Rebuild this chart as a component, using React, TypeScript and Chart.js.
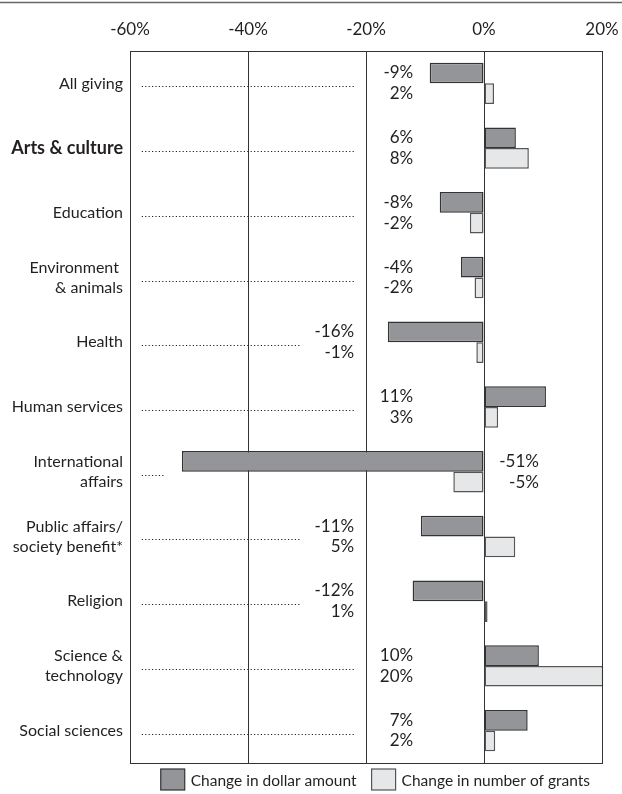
import React, { useEffect, useRef } from 'react';
import { Chart, registerables } from 'chart.js';

Chart.register(...registerables);

const categories: (string | string[])[] = [
  'All giving',
  'Arts & culture',
  'Education',
  ['Environment ', '& animals'],
  'Health',
  'Human services',
  ['International', 'affairs'],
  ['Public affairs/', 'society benefit*'],
  'Religion',
  ['Science &', 'technology'],
  'Social sciences',
];

const dollarChange = [-9.2, 5.4, -7.5, -3.9, -16.3, 10.5, -51.2, -10.7, -12.1, 9.3, 7.4];
const grantChange = [1.7, 7.6, -2.4, -1.6, -1.3, 2.4, -5.2, 5.3, 0.6, 20.2, 1.9];

const dollarLabels = ['-9%', '6%', '-8%', '-4%', '-16%', '11%', '-51%', '-11%', '-12%', '10%', '7%'];
const grantLabels = ['2%', '8%', '-2%', '-2%', '-1%', '3%', '-5%', '5%', '1%', '20%', '2%'];

const xTicks = [-60, -40, -20, 0, 20];

const seriesNames = ['Change in dollar amount', 'Change in number of grants'];

const FONT = 'Lato';
const TEXT = '#231f20';
const DARK_FILL = '#939598';
const LIGHT_FILL = '#e6e7e8';
const DARK_EDGE = '#333333';
const LIGHT_EDGE = '#555555';

export default function App() {
  const ref = useRef<HTMLCanvasElement>(null);

  useEffect(() => {
    const canvas = ref.current;
    if (!canvas) return;

    const overlay = {
      id: 'overlay',
      afterDatasetsDraw(chart: any) {
        const c = chart.ctx;
        const xs = chart.scales.x;
        const ys = chart.scales.y;
        const m0 = chart.getDatasetMeta(0);
        const m1 = chart.getDatasetMeta(1);
        c.save();
        for (let i = 0; i < categories.length; i++) {
          const d = dollarChange[i];
          const g = grantChange[i];
          const minV = Math.min(d, g);
          let labelX: number;
          let leaderEnd: number;
          if (minV < -40) {
            labelX = xs.getPixelForValue(9.3);
            leaderEnd = xs.getPixelForValue(minV - 3);
          } else if (minV < -10) {
            labelX = xs.getPixelForValue(-22);
            leaderEnd = xs.getPixelForValue(-31.2);
          } else {
            labelX = xs.getPixelForValue(-12);
            leaderEnd = xs.getPixelForValue(-22);
          }
          const yc = ys.getPixelForValue(i);
          const b0 = m0.data[i];
          const b1 = m1.data[i];
          // leader dots
          c.strokeStyle = '#222';
          c.lineWidth = 1.2;
          c.setLineDash([1.2, 2.2]);
          c.beginPath();
          c.moveTo(xs.getPixelForValue(-58), Math.round(yc + 3) + 0.5);
          c.lineTo(leaderEnd, Math.round(yc + 3) + 0.5);
          c.stroke();
          c.setLineDash([]);
          // value labels
          c.fillStyle = TEXT;
          c.font = `17px ${FONT}`;
          c.textAlign = 'right';
          c.textBaseline = 'middle';
          c.fillText(dollarLabels[i], labelX, b0.y);
          c.fillText(grantLabels[i], labelX, b1.y);
        }
        c.restore();
      },
      afterDraw(chart: any) {
        const c = chart.ctx;
        const a = chart.chartArea;
        c.save();
        // top rule
        c.strokeStyle = '#666';
        c.lineWidth = 1.5;
        c.beginPath();
        c.moveTo(0, 2.5);
        c.lineTo(chart.width, 2.5);
        c.stroke();
        // plot box
        c.strokeStyle = '#333';
        c.lineWidth = 1;
        c.strokeRect(Math.round(a.left) + 0.5, Math.round(a.top) + 0.5, Math.round(a.right - a.left), Math.round(a.bottom - a.top));
        // legend
        c.font = `15.5px ${FONT}`;
        const w1 = c.measureText(seriesNames[0]).width;
        const w2 = c.measureText(seriesNames[1]).width;
        const boxW = 24;
        const boxH = 21;
        const gap = 6;
        const itemGap = 15;
        const total = boxW + gap + w1 + itemGap + boxW + gap + w2;
        let x = a.right - 12 - total;
        const top = a.bottom + 6;
        const yMid = top + boxH / 2;
        const fills = [DARK_FILL, LIGHT_FILL];
        const edges = [DARK_EDGE, LIGHT_EDGE];
        const widths = [w1, w2];
        for (let k = 0; k < 2; k++) {
          c.fillStyle = fills[k];
          c.fillRect(x, top, boxW, boxH);
          c.strokeStyle = edges[k];
          c.lineWidth = 1.2;
          c.strokeRect(x, top, boxW, boxH);
          x += boxW + gap;
          c.fillStyle = TEXT;
          c.textAlign = 'left';
          c.textBaseline = 'middle';
          c.fillText(seriesNames[k], x, yMid + 1);
          x += widths[k] + itemGap;
        }
        c.restore();
      },
    };

    const chart = new Chart(canvas, {
      type: 'bar',
      data: {
        labels: categories,
        datasets: [
          {
            label: seriesNames[0],
            data: dollarChange,
            backgroundColor: DARK_FILL,
            borderColor: DARK_EDGE,
            borderWidth: 1.5,
            borderSkipped: false,
          },
          {
            label: seriesNames[1],
            data: grantChange,
            backgroundColor: LIGHT_FILL,
            borderColor: LIGHT_EDGE,
            borderWidth: 1.5,
            borderSkipped: false,
          },
        ],
      },
      options: {
        indexAxis: 'y',
        responsive: false,
        animation: false,
        events: [],
        datasets: {
          bar: { barPercentage: 1, categoryPercentage: 0.64, clip: false as any },
        },
        layout: { padding: { left: 0, right: 20, top: 0, bottom: 31 } },
        plugins: {
          legend: { display: false },
          tooltip: { enabled: false },
        },
        scales: {
          x: {
            position: 'top',
            min: -60,
            max: 20,
            z: 1,
            afterBuildTicks: (s: any) => {
              s.ticks = xTicks.map((v) => ({ value: v }));
            },
            afterFit: (s: any) => {
              s.height = 51;
              s.paddingLeft = 0;
              s.paddingRight = 0;
            },
            ticks: {
              callback: (v: any) => `${v}%`,
              font: { family: FONT, size: 17 },
              color: TEXT,
              padding: 11,
            },
            grid: { color: '#333', lineWidth: 1, drawTicks: false },
            border: { display: false },
          },
          y: {
            afterFit: (s: any) => {
              s.width = 130;
            },
            ticks: {
              font: (ctx: any) => ({
                family: FONT,
                size: ctx.index === 1 ? 18 : 16,
                weight: ctx.index === 1 ? 'bold' : 'normal',
                lineHeight: 1.25,
              }),
              color: TEXT,
              padding: 7,
            },
            grid: { display: false, drawTicks: false },
            border: { display: false },
          },
        },
      },
      plugins: [overlay],
    });

    return () => chart.destroy();
  }, []);

  return (
    <div style={{ position: 'absolute', left: 0, top: 0, width: 622, height: 794, background: '#fff' }}>
      <canvas ref={ref} width={622} height={794} style={{ display: 'block' }} />
    </div>
  );
}
